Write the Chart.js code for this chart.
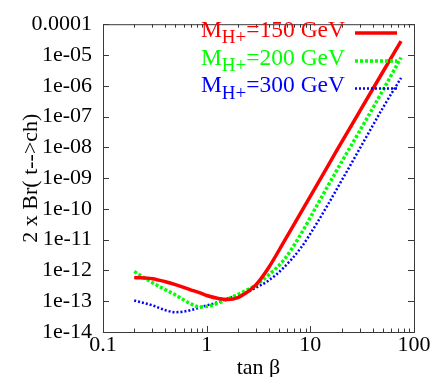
<!DOCTYPE html>
<html>
<head>
<meta charset="utf-8">
<script src="https://cdn.jsdelivr.net/npm/chart.js@4.4.1/dist/chart.umd.min.js"></script>
<style>
  html, body { margin: 0; padding: 0; background: #fff; }
</style>
</head>
<body>
<canvas id="brChart" width="440" height="377"></canvas>
<script>
// tan(beta) sample points, shared by the three curves
const tanBeta = [0.2, 0.3, 0.4, 0.5, 0.7, 0.85, 1.0, 1.3, 1.6, 2.0, 2.5, 3.0, 4.0, 5.5, 8, 12, 18, 30, 50, 75];

// 2 x Br(t -> ch) for each charged Higgs mass
const br150 = [5.9e-13, 5.4e-13, 4.3e-13, 3.45e-13, 2.35e-13, 1.9e-13, 1.53e-13, 1.23e-13, 1.14e-13, 1.32e-13,
               2.06e-13, 3.45e-13, 1.3e-12, 8.0e-12, 7.0e-11, 7.4e-10, 7.9e-9, 1.5e-7, 2.8e-6, 2.8e-5];
const br200 = [9.2e-13, 4.0e-13, 2.35e-13, 1.6e-13, 8.3e-14, 6.5e-14, 6.8e-14, 8.7e-14, 1.19e-13, 1.65e-13,
               2.4e-13, 3.4e-13, 7.3e-13, 2.1e-12, 1.4e-11, 1.6e-10, 1.8e-9, 3.45e-8, 7.0e-7, 8.3e-6];
const br300 = [1.06e-13, 7.3e-14, 5.1e-14, 4.4e-14, 5.1e-14, 6.2e-14, 7.3e-14, 9.4e-14, 1.23e-13, 1.48e-13,
               2.0e-13, 2.77e-13, 4.8e-13, 1.21e-12, 5.1e-12, 4.2e-11, 4.4e-10, 9.2e-9, 1.9e-7, 1.8e-6];

const massLabels = ['150', '200', '300'];

const xTickValues = [0.1, 1, 10, 100];
const xTickLabels = ['0.1', '1', '10', '100'];
const yTickValues = [1e-14, 1e-13, 1e-12, 1e-11, 1e-10, 1e-9, 1e-8, 1e-7, 1e-6, 1e-5, 1e-4];
const yTickLabels = ['1e-14', '1e-13', '1e-12', '1e-11', '1e-10', '1e-09', '1e-08', '1e-07', '1e-06', '1e-05', '0.0001'];

const serif = '"Liberation Serif", "DejaVu Serif", serif';
const fontSize = 22;

function points(values) {
    return tanBeta.map((t, i) => ({ x: t, y: values[i] }));
}

function labelFor(values, labels, v) {
    const i = values.findIndex(x => Math.abs(Math.log10(x) - Math.log10(v)) < 1e-6);
    return i >= 0 ? labels[i] : '';
}

// frame, inward ticks, axis titles and the gnuplot style key
const framePlugin = {
    id: 'frame',
    afterDraw(chart) {
        const ctx = chart.ctx;
        const { left, right, top, bottom } = chart.chartArea;
        const xs = chart.scales.x;
        const ys = chart.scales.y;
        ctx.save();
        ctx.strokeStyle = '#3a3a3a';
        ctx.lineWidth = 1;
        ctx.strokeRect(left + 0.5, top + 0.5, right - left, bottom - top);

        ctx.beginPath();
        yTickValues.forEach(v => {
            const y = Math.round(ys.getPixelForValue(v)) + 0.5;
            ctx.moveTo(left, y); ctx.lineTo(left + 6, y);
            ctx.moveTo(right, y); ctx.lineTo(right - 6, y);
        });
        xTickValues.forEach(v => {
            const x = Math.round(xs.getPixelForValue(v)) + 0.5;
            ctx.moveTo(x, bottom); ctx.lineTo(x, bottom - 6);
            ctx.moveTo(x, top); ctx.lineTo(x, top + 6);
        });
        for (let d = 0.1; d < 50; d *= 10) {
            for (let k = 2; k <= 9; k++) {
                const x = Math.round(xs.getPixelForValue(d * k)) + 0.5;
                ctx.moveTo(x, bottom); ctx.lineTo(x, bottom - 3.5);
                ctx.moveTo(x, top); ctx.lineTo(x, top + 3.5);
            }
        }
        ctx.stroke();

        ctx.fillStyle = '#000';
        ctx.font = fontSize + 'px ' + serif;
        ctx.textAlign = 'center';
        ctx.textBaseline = 'alphabetic';
        ctx.fillText('tan \u03b2', (left + right) / 2, 374);

        ctx.save();
        ctx.translate(37, (top + bottom) / 2);
        ctx.rotate(-Math.PI / 2);
        ctx.fillText('2 x Br( t-->ch)', 0, 0);
        ctx.restore();

        // key
        const rowY = [33, 61, 88.5];
        const main = '23.5px ' + serif;
        const sub = '19px ' + serif;
        chart.data.datasets.forEach((ds, i) => {
            const y = rowY[i];
            const base = y + 3.5;
            const tail = '=' + massLabels[i] + ' GeV';
            ctx.font = main;
            const wM = ctx.measureText('M').width;
            const wT = ctx.measureText(tail).width;
            ctx.font = sub;
            const wS = ctx.measureText('H+').width;
            let x = 345 - (wM + wS + wT);
            ctx.fillStyle = ds.borderColor;
            ctx.textAlign = 'left';
            ctx.font = main;
            ctx.fillText('M', x, base);
            x += wM;
            ctx.font = sub;
            ctx.fillText('H+', x, base + 6.5);
            x += wS;
            ctx.font = main;
            ctx.fillText(tail, x, base);

            ctx.beginPath();
            ctx.strokeStyle = ds.borderColor;
            ctx.lineWidth = ds.borderWidth;
            ctx.setLineDash(ds.borderDash || []);
            ctx.moveTo(355, y);
            ctx.lineTo(397, y);
            ctx.stroke();
            ctx.setLineDash([]);
        });
        ctx.restore();
    }
};

new Chart(document.getElementById('brChart'), {
    type: 'line',
    data: {
        datasets: [
            {
                label: 'MH+=150 GeV',
                data: points(br150),
                borderColor: '#ff0000',
                borderWidth: 3.5,
                cubicInterpolationMode: 'monotone'
            },
            {
                label: 'MH+=200 GeV',
                data: points(br200),
                borderColor: '#00ff00',
                borderWidth: 3.5,
                borderDash: [3, 2],
                cubicInterpolationMode: 'monotone'
            },
            {
                label: 'MH+=300 GeV',
                data: points(br300),
                borderColor: '#0000ff',
                borderWidth: 2.5,
                borderDash: [2, 2],
                cubicInterpolationMode: 'monotone'
            }
        ]
    },
    options: {
        responsive: false,
        animation: false,
        devicePixelRatio: 1,
        layout: { padding: { top: 20, right: 26, bottom: 0, left: 0 } },
        elements: { point: { radius: 0 } },
        plugins: { legend: { display: false }, tooltip: { enabled: false } },
        scales: {
            x: {
                type: 'logarithmic',
                min: 0.1,
                max: 100,
                grid: { display: false, drawTicks: false },
                border: { display: false },
                afterBuildTicks: s => { s.ticks = xTickValues.map(v => ({ value: v })); },
                afterFit: s => { s.height = 45; },
                ticks: {
                    color: '#000',
                    padding: 0,
                    autoSkip: false,
                    maxRotation: 0,
                    font: { family: serif, size: fontSize },
                    callback: v => labelFor(xTickValues, xTickLabels, v)
                }
            },
            y: {
                type: 'logarithmic',
                min: 1e-14,
                max: 1e-4,
                grid: { display: false, drawTicks: false },
                border: { display: false },
                afterBuildTicks: s => { s.ticks = yTickValues.map(v => ({ value: v })); },
                afterFit: s => { s.width = 103; },
                ticks: {
                    color: '#000',
                    padding: 11,
                    autoSkip: false,
                    font: { family: serif, size: fontSize },
                    callback: v => labelFor(yTickValues, yTickLabels, v)
                }
            }
        }
    },
    plugins: [framePlugin]
});
</script>
</body>
</html>
